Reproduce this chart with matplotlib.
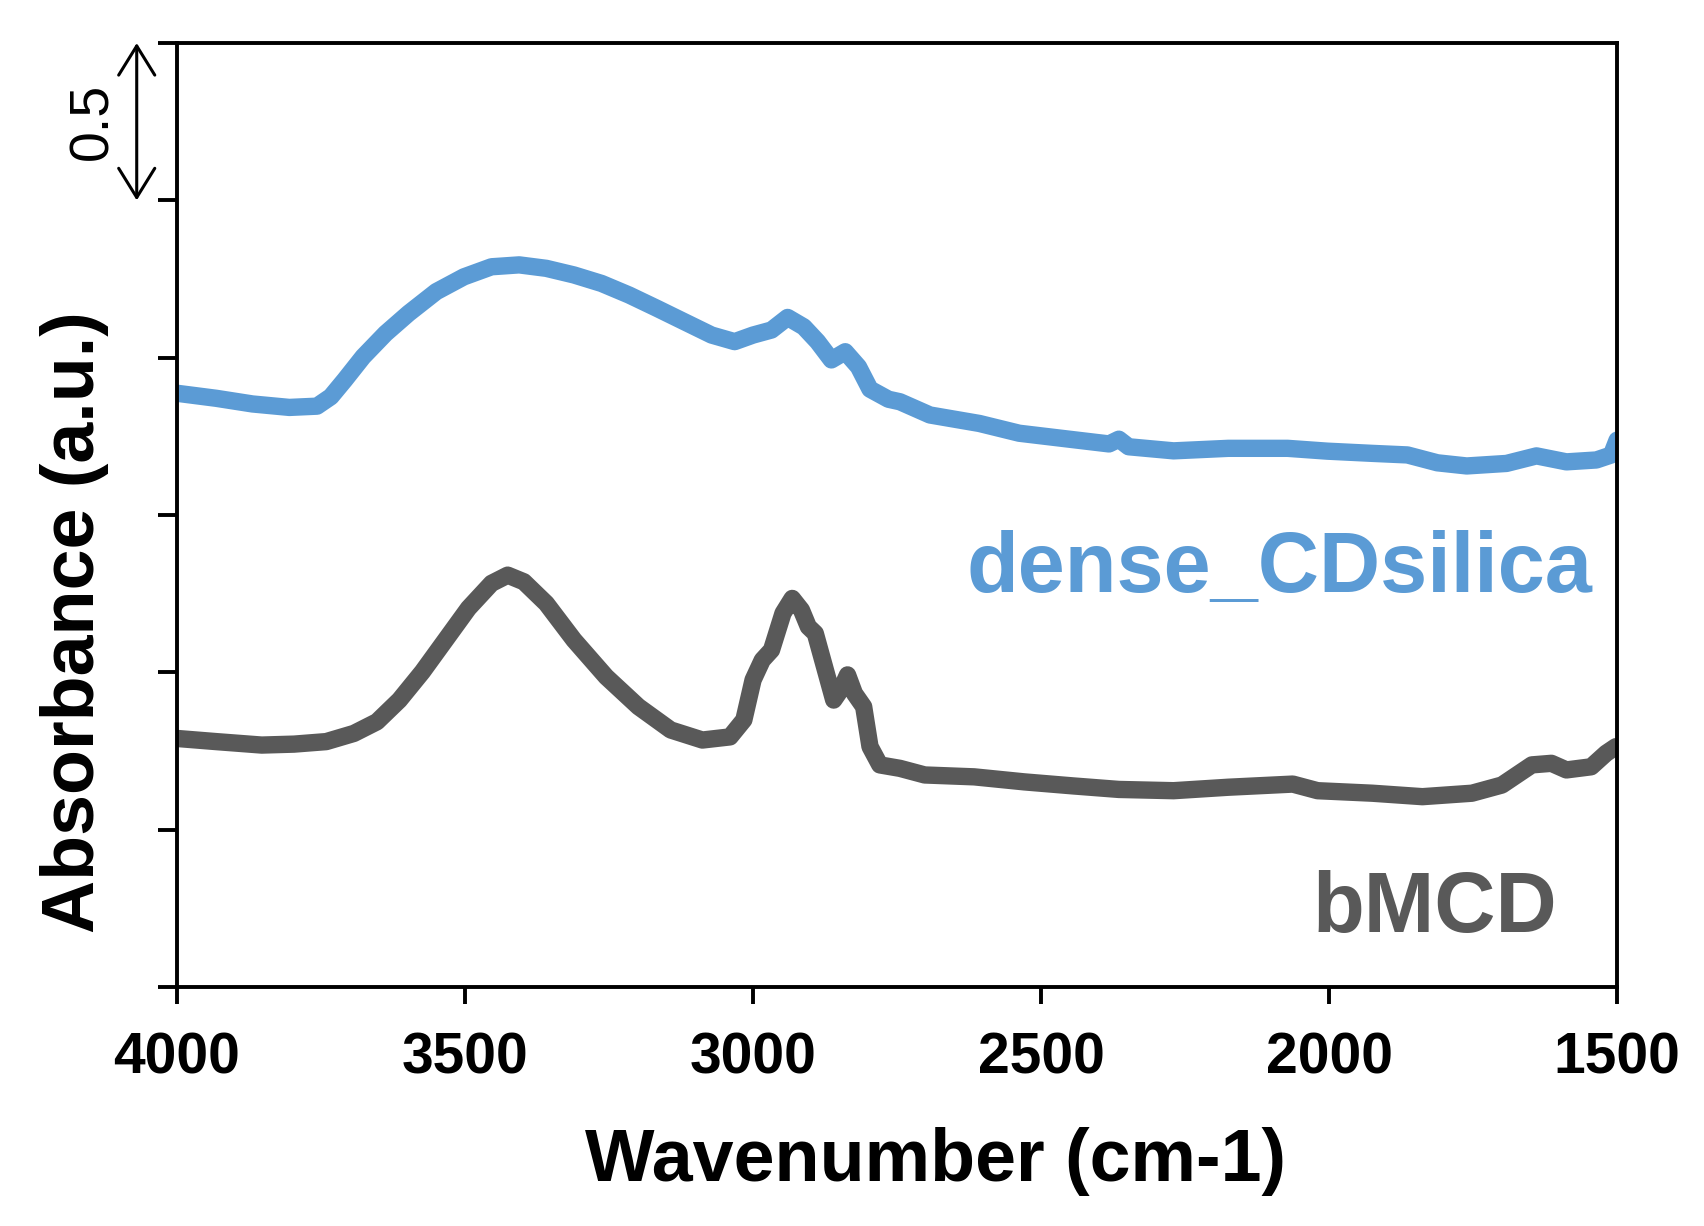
import matplotlib
matplotlib.use("Agg")
import matplotlib.pyplot as plt
import numpy as np

# (wavenumber in cm-1, absorbance in a.u.)
silica_x = [4000, 3932, 3869, 3805, 3757, 3733, 3709, 3677, 3638, 3598, 3550, 3502,
            3454, 3406, 3359, 3311, 3263, 3215, 3167, 3119, 3072, 3032, 3000, 2968,
            2940, 2912, 2888, 2864, 2840, 2817, 2797, 2765, 2745, 2693, 2607, 2538,
            2451, 2382, 2365, 2348, 2270, 2175, 2072, 2003, 1925, 1864, 1812, 1761,
            1692, 1640, 1588, 1536, 1510, 1500]
silica_y = [1.887, 1.871, 1.853, 1.842, 1.846, 1.876, 1.929, 2.003, 2.077, 2.141,
            2.210, 2.257, 2.289, 2.295, 2.284, 2.263, 2.236, 2.199, 2.157, 2.114,
            2.072, 2.051, 2.072, 2.088, 2.128, 2.098, 2.051, 1.993, 2.019, 1.971,
            1.900, 1.868, 1.860, 1.818, 1.791, 1.760, 1.741, 1.726, 1.741, 1.717,
            1.704, 1.712, 1.712, 1.703, 1.696, 1.691, 1.666, 1.656, 1.664, 1.688,
            1.669, 1.675, 1.691, 1.738]

bmcd_x = [4000, 3932, 3853, 3797, 3741, 3693, 3653, 3614, 3574, 3534, 3494, 3454,
          3426, 3398, 3359, 3311, 3255, 3199, 3143, 3088, 3040, 3016, 3000, 2984,
          2968, 2948, 2932, 2916, 2904, 2892, 2876, 2860, 2848, 2836, 2824, 2808,
          2797, 2780, 2745, 2702, 2616, 2529, 2443, 2365, 2270, 2175, 2063, 2020,
          1925, 1838, 1752, 1700, 1648, 1614, 1588, 1545, 1519, 1502]
bmcd_y = [0.790, 0.780, 0.769, 0.772, 0.780, 0.806, 0.843, 0.912, 1.002, 1.103,
          1.204, 1.283, 1.309, 1.288, 1.219, 1.103, 0.986, 0.891, 0.817, 0.785,
          0.795, 0.849, 0.976, 1.039, 1.071, 1.188, 1.235, 1.198, 1.145, 1.124,
          1.018, 0.912, 0.944, 0.992, 0.933, 0.891, 0.764, 0.706, 0.695, 0.674,
          0.668, 0.652, 0.639, 0.628, 0.624, 0.635, 0.645, 0.624, 0.616, 0.605,
          0.616, 0.642, 0.706, 0.711, 0.690, 0.700, 0.743, 0.764]

x_ticks = [4000, 3500, 3000, 2500, 2000, 1500]

blue = '#5B9BD5'
grey = '#595959'

plt.rcParams['font.family'] = ['Liberation Sans', 'DejaVu Sans']

fig = plt.figure(figsize=(17.04, 12.26), dpi=100)
ax = fig.add_axes([0.1039, 0.1949, 0.8451, 0.7700])

ax.plot(silica_x, silica_y, color=blue, linewidth=12.5, solid_joinstyle='round',
        solid_capstyle='round')
ax.plot(bmcd_x, bmcd_y, color=grey, linewidth=12.5, solid_joinstyle='round',
        solid_capstyle='round')

ax.set_xlim(4000, 1500)
ax.set_ylim(0, 3)
ax.set_xticks(x_ticks)
ax.set_xticklabels([str(t) for t in x_ticks], fontweight='bold')
ax.set_yticks(np.arange(0, 3.01, 0.5))
ax.set_yticklabels([])

for s in ax.spines.values():
    s.set_linewidth(2.8)
ax.tick_params(axis='x', length=12, width=2.8, labelsize=41, pad=20)
ax.tick_params(axis='y', length=14, width=2.8)

ax.set_xlabel("Wavenumber (cm-1)", fontsize=53, fontweight='bold')
ax.xaxis.set_label_coords(0.527, -0.148)
ax.set_ylabel("Absorbance (a.u.)", fontsize=53, fontweight='bold')
ax.yaxis.set_label_coords(-0.047, 0.387)

# series labels
ax.text(0.983, 0.418, "dense_CDsilica", transform=ax.transAxes, ha='right',
        va='baseline', color=blue, fontsize=61, fontweight='bold')
ax.text(0.958, 0.058, "bMCD", transform=ax.transAxes, ha='right',
        va='baseline', color=grey, fontsize=61, fontweight='bold')

# scale bar arrow
ax.annotate("", xy=(-0.028, 3.0), xytext=(-0.028, 2.5),
            xycoords=('axes fraction', 'data'), textcoords=('axes fraction', 'data'),
            arrowprops=dict(arrowstyle='<->,head_length=2.1,head_width=1.3',
                            color='black', lw=2.2, shrinkA=0, shrinkB=0),
            annotation_clip=False)
ax.text(-0.058, 2.75, "0.5", transform=ax.get_yaxis_transform(), rotation=90,
        ha='center', va='center', fontsize=40)

fig.savefig("out.png", dpi=100)
